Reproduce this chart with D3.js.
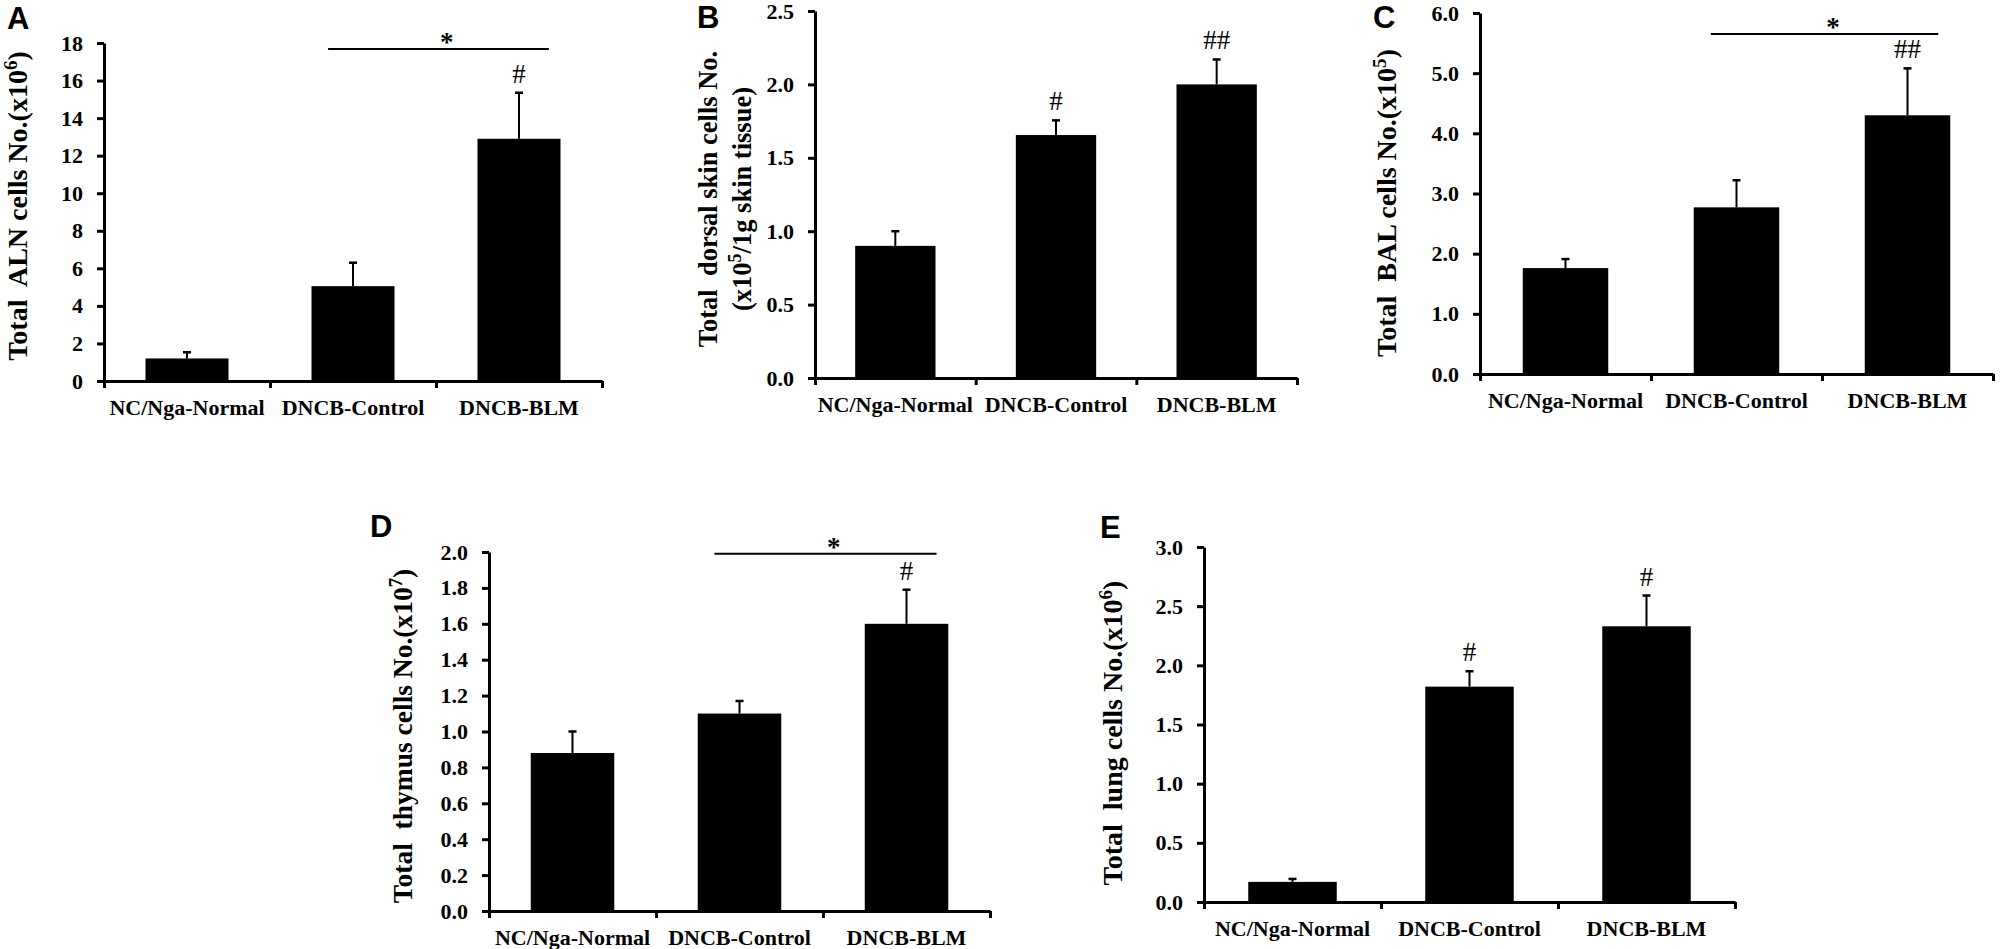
<!DOCTYPE html>
<html>
<head>
<meta charset="utf-8">
<script src="https://cdn.jsdelivr.net/npm/d3@7/dist/d3.min.js"></script>
<style>
  html, body { margin: 0; padding: 0; background: #fff; }
  svg { display: block; }
  text { white-space: pre; }
</style>
</head>
<body>
<svg id="chart" width="2000" height="949"></svg>
<script>
// ---------------- DATA ----------------
const categories = ["NC/Nga-Normal", "DNCB-Control", "DNCB-BLM"];

// A: Total ALN cells (x10^6)
const aMean = [1.2, 5.05, 12.9];
const aErr  = [0.33, 1.25, 2.45];
const aHash = ["", "", "#"];
const aTicks = [0, 2, 4, 6, 8, 10, 12, 14, 16, 18];
const aStarLevel = 17.68;

// B: Total dorsal skin cells (x10^5 / 1g skin tissue)
const bMean = [0.9, 1.655, 2.0];
const bErr  = [0.1, 0.1, 0.17];
const bHash = ["", "#", "##"];
const bTicks = [0, 0.5, 1.0, 1.5, 2.0, 2.5];

// C: Total BAL cells (x10^5)
const cMean = [1.76, 2.77, 4.3];
const cErr  = [0.15, 0.45, 0.78];
const cHash = ["", "", "##"];
const cTicks = [0, 1, 2, 3, 4, 5, 6];
const cStarLevel = 5.65;

// D: Total thymus cells (x10^7)
const dMean = [0.88, 1.1, 1.6];
const dErr  = [0.12, 0.07, 0.19];
const dHash = ["", "", "#"];
const dTicks = [0, 0.2, 0.4, 0.6, 0.8, 1.0, 1.2, 1.4, 1.6, 1.8, 2.0];
const dStarLevel = 1.99;

// E: Total lung cells (x10^6)
const eMean = [0.17, 1.82, 2.33];
const eErr  = [0.025, 0.13, 0.26];
const eHash = ["", "#", "#"];
const eTicks = [0, 0.5, 1.0, 1.5, 2.0, 2.5, 3.0];

// ---------------- LAYOUT ----------------
const panels = [
  { letter: "A", mean: aMean, err: aErr, hash: aHash, ticks: aTicks, fmt: d3.format("d"),
    yMax: 18, star: aStarLevel,
    x0: 104, x1: 602, y0: 381, y1: 43, lx: 7, ly: 29,
    title: [[["Total  ALN cells No.(x10", false], ["6", true], [")", false]]],
    titleX: [18], titleY: 206, titleSize: 28 },
  { letter: "B", mean: bMean, err: bErr, hash: bHash, ticks: bTicks, fmt: d3.format(".1f"),
    yMax: 2.5, star: null,
    x0: 815, x1: 1297, y0: 378, y1: 11, lx: 697, ly: 28,
    title: [[["Total  dorsal skin cells No.", false]],
            [["(x10", false], ["5", true], ["/1g skin tissue)", false]]],
    titleX: [708, 742], titleY: 199, titleSize: 26.5 },
  { letter: "C", mean: cMean, err: cErr, hash: cHash, ticks: cTicks, fmt: d3.format(".1f"),
    yMax: 6, star: cStarLevel,
    x0: 1480, x1: 1993, y0: 374, y1: 13, lx: 1373, ly: 28,
    title: [[["Total  BAL cells No.(x10", false], ["5", true], [")", false]]],
    titleX: [1387], titleY: 203, titleSize: 28 },
  { letter: "D", mean: dMean, err: dErr, hash: dHash, ticks: dTicks, fmt: d3.format(".1f"),
    yMax: 2, star: dStarLevel,
    x0: 489, x1: 990, y0: 911, y1: 552, lx: 370, ly: 537,
    title: [[["Total  thymus cells No.(x10", false], ["7", true], [")", false]]],
    titleX: [403], titleY: 736, titleSize: 27.5 },
  { letter: "E", mean: eMean, err: eErr, hash: eHash, ticks: eTicks, fmt: d3.format(".1f"),
    yMax: 3, star: null,
    x0: 1204, x1: 1735, y0: 902, y1: 547, lx: 1100, ly: 538,
    title: [[["Total  lung cells No.(x10", false], ["6", true], [")", false]]],
    titleX: [1113], titleY: 733, titleSize: 28 }
];

const SERIF = "'Liberation Serif', 'Times New Roman', Times, serif";
const SANS = "'Liberation Sans', Arial, Helvetica, sans-serif";
const svg = d3.select("#chart");

panels.forEach(p => {
  const g = svg.append("g");
  const x = d3.scaleBand().domain(categories).range([p.x0, p.x1])
    .paddingInner(0.5).paddingOuter(0.25);
  const xb = d3.scaleLinear().domain([0, 3]).range([p.x0, p.x1]);
  const y = d3.scaleLinear().domain([0, p.yMax]).range([p.y0, p.y1]);
  const cx = c => x(c) + x.bandwidth() / 2;

  // bars
  g.selectAll("rect.bar").data(categories).join("rect")
    .attr("x", c => x(c))
    .attr("width", x.bandwidth())
    .attr("y", (c, i) => y(p.mean[i]))
    .attr("height", (c, i) => y(0) - y(p.mean[i]))
    .attr("fill", "#000");

  // error bars (upper only)
  g.selectAll("line.err").data(categories).join("line")
    .attr("x1", c => cx(c)).attr("x2", c => cx(c))
    .attr("y1", (c, i) => y(p.mean[i]))
    .attr("y2", (c, i) => y(p.mean[i] + p.err[i]))
    .attr("stroke", "#000").attr("stroke-width", 2);
  g.selectAll("line.cap").data(categories).join("line")
    .attr("x1", c => cx(c) - 4).attr("x2", c => cx(c) + 4)
    .attr("y1", (c, i) => y(p.mean[i] + p.err[i]))
    .attr("y2", (c, i) => y(p.mean[i] + p.err[i]))
    .attr("stroke", "#000").attr("stroke-width", 2.5);

  // hash markers
  g.selectAll("text.hash").data(categories).join("text")
    .attr("x", c => cx(c))
    .attr("y", (c, i) => y(p.mean[i] + p.err[i]) - 10)
    .attr("text-anchor", "middle")
    .attr("font-family", SERIF).attr("font-size", 27)
    .text((c, i) => p.hash[i]);

  // significance line with star
  if (p.star !== null) {
    const sx1 = cx(categories[1]) - 0.15 * x.step();
    const sx2 = cx(categories[2]) + 0.18 * x.step();
    g.append("line")
      .attr("x1", sx1).attr("x2", sx2)
      .attr("y1", y(p.star)).attr("y2", y(p.star))
      .attr("stroke", "#000").attr("stroke-width", 2);
    g.append("text")
      .attr("x", (sx1 + sx2) / 2 + 0.05 * x.step())
      .attr("y", y(p.star) + 2)
      .attr("text-anchor", "middle")
      .attr("font-family", SERIF).attr("font-weight", "bold").attr("font-size", 27)
      .text("*");
  }

  // y axis
  const ya = g.append("g").attr("transform", `translate(${p.x0},0)`)
    .call(d3.axisLeft(y).tickValues(p.ticks).tickFormat(p.fmt)
      .tickSize(7).tickSizeOuter(0).tickPadding(14));
  ya.select(".domain").attr("stroke-width", 3);
  ya.selectAll(".tick line").attr("stroke-width", 3);
  ya.selectAll(".tick text")
    .attr("font-family", SERIF).attr("font-weight", "bold").attr("font-size", 22)
    .attr("fill", "#000");

  // x axis with category boundary ticks
  const xa = g.append("g").attr("transform", `translate(0,${p.y0})`)
    .call(d3.axisBottom(xb).tickValues([0, 1, 2, 3]).tickFormat("")
      .tickSize(7).tickSizeOuter(0));
  xa.select(".domain").attr("stroke-width", 3);
  xa.selectAll(".tick line").attr("stroke-width", 3);

  // category labels
  g.selectAll("text.cat").data(categories).join("text")
    .attr("x", c => cx(c))
    .attr("y", p.y0 + 34)
    .attr("text-anchor", "middle")
    .attr("font-family", SERIF).attr("font-weight", "bold").attr("font-size", 22)
    .text(c => c);

  // y title (rotated)
  const fs = p.titleSize;
  p.title.forEach((line, li) => {
    const t = g.append("text")
      .attr("transform", `translate(${p.titleX[li] + fs * 0.33},${p.titleY}) rotate(-90)`)
      .attr("text-anchor", "middle")
      .attr("font-family", SERIF).attr("font-weight", "bold").attr("font-size", fs);
    line.forEach(([s, sup], k) => {
      const ts = t.append("tspan").text(s);
      if (sup) { ts.attr("font-size", fs * 0.68).attr("dy", -fs * 0.38); }
      else if (k > 0 && line[k - 1][1]) { ts.attr("dy", fs * 0.38); }
    });
  });

  // panel letter
  g.append("text")
    .attr("x", p.lx).attr("y", p.ly)
    .attr("font-family", SANS).attr("font-weight", "bold").attr("font-size", 31)
    .text(p.letter);
});
</script>
</body>
</html>
